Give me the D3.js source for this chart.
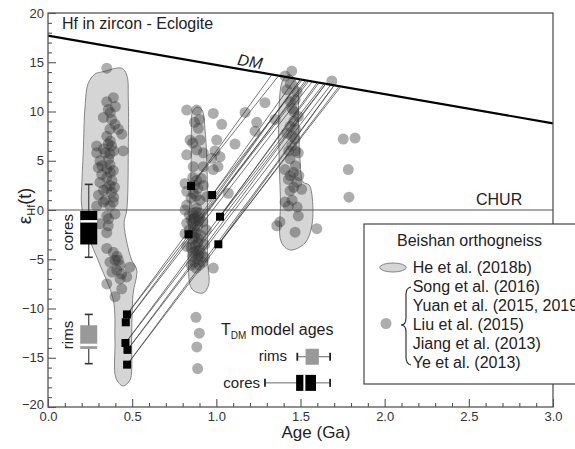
<!DOCTYPE html>
<html><head><meta charset="utf-8">
<script src="https://cdn.jsdelivr.net/npm/d3@7"></script>
<style>
body{margin:0;background:#fff}
svg{display:block}
text{font-family:"Liberation Sans",Arial,Helvetica,sans-serif}
</style>
</head><body>
<svg id="chart" width="575" height="449"></svg>
<script>
// ---------- data ----------
const xTicks = [0, 0.5, 1.0, 1.5, 2.0, 2.5, 3.0];
const yTicks = [-20, -15, -10, -5, 0, 5, 10, 15, 20];
const dmAge = [0, 3.0];
const dmEps = [17.7, 8.8];
const churEps = 0;

// He et al. (2018b) envelopes [age, eps]
const envelopeA = [[0.239,12.86],[0.279,13.8],[0.327,14.04],[0.438,14.39],[0.468,13.7],[0.477,11.17],[0.477,6.09],[0.468,0],[0.452,-1.3],[0.47,-3.4],[0.497,-5.08],[0.527,-6.09],[0.505,-8.6],[0.497,-13.2],[0.497,-16.24],[0.487,-17.26],[0.446,-17.87],[0.404,-17.06],[0.398,-13.2],[0.388,-9.14],[0.309,-5.58],[0.238,-2.54],[0.2,0.34],[0.202,3.05],[0.21,6.09],[0.22,10.46]];
const envelopeB = [[0.858,9.95],[0.885,10.46],[0.915,10.15],[0.933,8.12],[0.945,4.06],[0.948,-1.02],[0.948,-5.08],[0.954,-7.61],[0.921,-8.43],[0.855,-8.02],[0.833,-5.08],[0.838,-1.02],[0.85,4.06],[0.852,8.12]];
const envelopeC = [[1.396,13.2],[1.438,13.7],[1.479,12.79],[1.488,9.14],[1.497,5.08],[1.515,2.84],[1.551,2.54],[1.568,1.52],[1.568,-1.52],[1.527,-3.35],[1.438,-4.06],[1.386,-3.25],[1.381,1.02],[1.372,6.09],[1.372,10.15]];

// Beishan orthogneiss literature data [age, eps]
const dotsA = [[0.349,14.4],[0.349,11.0],[0.388,11.4],[0.358,10.2],[0.329,9.4],[0.378,9.2],[0.398,8.7],[0.418,8.2],[0.438,7.7],[0.368,8.2],[0.349,7.5],[0.358,6.7],[0.378,6.5],[0.289,6.5],[0.289,5.8],[0.447,6.0],[0.368,5.7],[0.309,5.0],[0.368,4.6],[0.388,4.0],[0.299,4.3],[0.319,3.6],[0.349,3.3],[0.309,2.8],[0.368,2.5],[0.378,1.8],[0.388,0.8],[0.368,0.4],[0.289,0.4],[0.33,6.2],[0.36,5.2],[0.38,3.0],[0.30,1.5],[0.34,1.0],[0.395,2.3],[0.35,4.2],[0.33,2.0],[0.329,0.8],[0.349,-0.6],[0.398,-0.4],[0.309,-1.4],[0.358,-1.6],[0.349,-2.3],[0.349,-3.9],[0.388,-4.3],[0.398,-5.1],[0.368,-5.3],[0.418,-5.1],[0.428,-5.6],[0.487,-5.8],[0.408,-6.1],[0.438,-6.5],[0.468,-6.8],[0.428,-7.0],[0.349,-7.5],[0.438,-8.0],[0.398,-8.8],[0.37,7.0],[0.39,6.0],[0.34,5.8],[0.37,3.8],[0.35,2.2],[0.39,1.3],[0.36,-0.9],[0.37,9.9],[0.40,10.5],[0.32,4.5],[0.41,-4.7],[0.38,-6.3]];
const dotsB = [[0.824,10.15],[0.883,10.15],[0.982,9.8],[1.032,8.7],[0.893,8.3],[0.844,7.1],[0.903,7.1],[1.002,7.1],[0.824,5.6],[0.883,6.1],[0.923,5.8],[1.022,5.4],[0.992,6.0],[0.863,4.4],[0.923,4.4],[0.982,4.1],[0.972,5.25],[1.01,4.4],[1.171,9.9],[1.111,6.7],[1.24,8.9],[1.289,10.9],[1.23,8.0],[1.071,1.7],[0.883,3.0],[0.814,2.7],[0.923,2.5],[0.863,1.7],[0.824,1.9],[0.903,1.0],[0.943,1.35],[0.824,0.5],[0.883,0.2],[0.814,0],[0.84,-0.5],[0.87,-0.8],[0.90,-0.3],[0.824,-1.35],[0.86,-1.3],[0.89,-1.6],[0.92,-1.2],[0.84,-2.0],[0.88,-2.3],[0.91,-2.6],[0.814,-2.4],[0.86,-3.0],[0.89,-3.3],[0.93,-3.5],[0.824,-3.7],[0.85,-3.8],[0.88,-4.1],[0.91,-4.4],[0.86,-4.7],[0.89,-5.0],[0.92,-5.3],[0.85,-5.6],[0.88,-5.9],[0.87,-2.8],[0.90,-4.0],[0.87,-1.9],[0.85,-1.0],[0.90,-0.8],[0.94,-2.0],[0.93,-4.8],[0.982,-5.9],[0.879,-10.9],[0.899,-12.5],[0.884,-13.9],[0.889,-16.1],[0.86,3.3],[0.89,2.2],[0.85,1.2],[0.88,-0.2],[0.86,-0.3],[0.895,-1.1],[0.875,-3.6],[0.855,-2.3],[0.895,-2.9],[0.865,-4.3],[0.895,-4.6],[0.87,-5.3],[0.9,-5.6],[0.865,-0.9],[0.88,1.4],[0.87,2.5],[0.91,3.2],[0.86,6.8],[0.87,8.9],[0.9,9.2]];
const dotsC = [[1.448,14.1],[1.408,13.6],[1.686,13.1],[1.418,12.2],[1.349,9.2],[1.468,11.2],[1.487,9.5],[1.438,8.5],[1.418,7.8],[1.468,7.2],[1.448,6.5],[1.487,5.8],[1.438,5.2],[1.408,4.1],[1.458,3.8],[1.428,3.1],[1.478,2.8],[1.507,2.1],[1.438,1.95],[1.428,0.4],[1.487,-0.6],[1.468,-2.25],[1.359,-1.6],[1.597,-1.9],[1.408,0.8],[1.378,-1.2],[1.45,10.3],[1.47,4.5],[1.43,6.0],[1.46,9.0],[1.44,11.0],[1.49,3.5],[1.44,12.8],[1.47,8.2],[1.45,7.5],[1.44,3.5],[1.46,2.3],[1.45,1.0],[1.48,0.3],[1.47,6.0],[1.46,10.0],[1.48,12.0],[1.754,7.2],[1.824,7.3],[1.784,4.1],[1.788,1.3]];

// Eclogite zircon (black squares)
const squareAge = [0.469, 0.462, 0.460, 0.472, 0.470, 0.850, 0.975, 1.022, 0.835, 1.012];
const squareEps = [-10.6, -11.4, -13.5, -14.2, -15.7, 2.44, 1.52, -0.68, -2.47, -3.48];
// model-age lines: start square index, age where the line meets DM
const tdmSquare = [0, 0, 1, 1, 2, 2, 3, 3, 4, 4, 5, 5, 6, 6, 7, 7, 8, 8, 9, 9];
const tdmAge = [1.50, 1.55, 1.53, 1.57, 1.61, 1.65, 1.65, 1.68, 1.70, 1.73, 1.33, 1.37, 1.47, 1.51, 1.60, 1.64, 1.50, 1.54, 1.70, 1.74];

// box plots: [min, q1, median, q3, max]
const boxAge = 0.242;
const coresEps = [-4.8, -3.5, -1.15, -0.1, 2.6];
const rimsEps = [-15.6, -14.1, -13.7, -11.7, -10.6];
const coresTdm = [1.289, 1.474, 1.523, 1.592, 1.676];
const rimsTdm = [1.481, 1.530, 1.570, 1.609, 1.676];
const tdmRowEps = [-14.9, -17.55]; // rims row, cores row

const legendRefs = ["Song et al. (2016)", "Yuan et al. (2015, 2019)", "Liu et al. (2015)", "Jiang et al. (2013)", "Ye et al. (2013)"];

// ---------- drawing ----------
const svg = d3.select("#chart");
const x = d3.scaleLinear().domain([0, 3]).range([48, 553]);
const y = d3.scaleLinear().domain([-20, 20]).range([407, 13]);
const ink = "#222";

// envelopes
const env = d3.line().x(d => x(d[0])).y(d => y(d[1])).curve(d3.curveCatmullRomClosed.alpha(0.5));
svg.append("g").selectAll("path").data([envelopeA, envelopeB, envelopeC]).join("path")
  .attr("d", env).attr("fill", "#d5d5d5").attr("stroke", "#858585").attr("stroke-width", 1);

// dots
const allDots = dotsA.concat(dotsB, dotsC);
svg.append("g").selectAll("circle").data(allDots).join("circle")
  .attr("cx", d => x(d[0])).attr("cy", d => y(d[1])).attr("r", 5.5)
  .attr("fill", "#333").attr("fill-opacity", 0.4);

// CHUR
svg.append("line").attr("x1", x(0)).attr("x2", x(3)).attr("y1", y(churEps)).attr("y2", y(churEps))
  .attr("stroke", "#555").attr("stroke-width", 1.2);

// DM
svg.append("line").attr("x1", x(dmAge[0])).attr("y1", y(dmEps[0])).attr("x2", x(dmAge[1])).attr("y2", y(dmEps[1]))
  .attr("stroke", "#000").attr("stroke-width", 2.2);
const dmAt = t => dmEps[0] + (dmEps[1] - dmEps[0]) * (t - dmAge[0]) / (dmAge[1] - dmAge[0]);

// TDM lines
svg.append("g").selectAll("line").data(tdmSquare).join("line")
  .attr("x1", d => x(squareAge[d])).attr("y1", d => y(squareEps[d]))
  .attr("x2", (d, i) => x(tdmAge[i])).attr("y2", (d, i) => y(dmAt(tdmAge[i])))
  .attr("stroke", "#3a3a3a").attr("stroke-width", 0.7);

// squares
svg.append("g").selectAll("rect").data(squareAge).join("rect")
  .attr("x", (d) => x(d) - 4).attr("y", (d, i) => y(squareEps[i]) - 4)
  .attr("width", 8).attr("height", 8).attr("fill", "#000");

// frame + axes
svg.append("rect").attr("x", x(0)).attr("y", y(20)).attr("width", x(3) - x(0)).attr("height", y(-20) - y(20))
  .attr("fill", "none").attr("stroke", "#555").attr("stroke-width", 1.3);

const xMinor = d3.range(0, 3.0001, 0.1).filter(v => Math.abs(v * 2 - Math.round(v * 2)) > 1e-6);
const yMinor = d3.range(-20, 20.0001, 1).filter(v => v % 5 !== 0);

function styleAxis(g) {
  g.select(".domain").remove();
  g.selectAll(".tick line").attr("stroke", "#555").attr("stroke-width", 1.1);
  g.selectAll("text").attr("fill", "#333").attr("font-size", 13)
    .attr("font-family", '"Liberation Sans",Arial,sans-serif');
}
svg.append("g").attr("transform", `translate(0,${y(-20)})`)
  .call(d3.axisBottom(x).tickValues(xTicks).tickFormat(d3.format(".1f")).tickSize(-8).tickPadding(5)).call(styleAxis);
svg.append("g").attr("transform", `translate(0,${y(-20)})`)
  .call(d3.axisBottom(x).tickValues(xMinor).tickFormat("").tickSize(-4)).call(styleAxis);
const yAx = svg.append("g").attr("transform", `translate(${x(0)},0)`)
  .call(d3.axisLeft(y).tickValues(yTicks).tickFormat(d3.format("d")).tickSize(-8).tickPadding(4)).call(styleAxis);
yAx.selectAll(".tick").filter(d => d === -20).select("text").attr("dy", "0.1em");
svg.append("g").attr("transform", `translate(${x(0)},0)`)
  .call(d3.axisLeft(y).tickValues(yMinor).tickFormat("").tickSize(-4)).call(styleAxis);

// vertical box plots (cores / rims)
function vbox(stats, fill) {
  const g = svg.append("g");
  const cx = x(boxAge), w = 17;
  g.append("line").attr("x1", cx).attr("x2", cx).attr("y1", y(stats[0])).attr("y2", y(stats[4])).attr("stroke", "#444").attr("stroke-width", 1.2);
  [stats[0], stats[4]].forEach(v => g.append("line").attr("x1", cx - 4).attr("x2", cx + 4).attr("y1", y(v)).attr("y2", y(v)).attr("stroke", "#333").attr("stroke-width", 1.6));
  g.append("rect").attr("x", cx - w / 2).attr("width", w).attr("y", y(stats[3])).attr("height", y(stats[1]) - y(stats[3])).attr("fill", fill);
  g.append("line").attr("x1", cx - w / 2).attr("x2", cx + w / 2).attr("y1", y(stats[2])).attr("y2", y(stats[2])).attr("stroke", "#fff").attr("stroke-width", 2.5);
}
vbox(coresEps, "#000");
vbox(rimsEps, "#999");

// horizontal TDM box plots
function hbox(stats, rowEps, fill, median) {
  const g = svg.append("g");
  const cy = y(rowEps), h = 16;
  g.append("line").attr("x1", x(stats[0])).attr("x2", x(stats[4])).attr("y1", cy).attr("y2", cy).attr("stroke", "#666").attr("stroke-width", 1);
  [stats[0], stats[4]].forEach(v => g.append("line").attr("x1", x(v)).attr("x2", x(v)).attr("y1", cy - 4).attr("y2", cy + 4).attr("stroke", "#222").attr("stroke-width", 1.8));
  g.append("rect").attr("x", x(stats[1])).attr("width", x(stats[3]) - x(stats[1])).attr("y", cy - h / 2).attr("height", h).attr("fill", fill);
  if (median) g.append("line").attr("x1", x(stats[2])).attr("x2", x(stats[2])).attr("y1", cy - h / 2).attr("y2", cy + h / 2).attr("stroke", "#fff").attr("stroke-width", 2);
}
hbox(rimsTdm, tdmRowEps[0], "#999", false);
hbox(coresTdm, tdmRowEps[1], "#000", true);

// ---------- texts ----------
svg.append("text").attr("x", 62).attr("y", 29).attr("font-size", 16).attr("fill", ink).text("Hf in zircon - Eclogite");

const ang = Math.atan2(y(dmEps[1]) - y(dmEps[0]), x(dmAge[1]) - x(dmAge[0])) * 180 / Math.PI;
svg.append("text").attr("transform", `translate(249,67) rotate(${ang})`).attr("text-anchor", "middle")
  .attr("font-size", 16).attr("font-style", "italic").attr("fill", ink).text("DM");

svg.append("text").attr("x", 476).attr("y", 205).attr("font-size", 16).attr("fill", ink).text("CHUR");

// y label
const yl = svg.append("text").attr("transform", "translate(31,206) rotate(-90)").attr("text-anchor", "middle").attr("fill", ink);
yl.append("tspan").attr("font-size", 19).text("ε");
yl.append("tspan").attr("font-size", 11).attr("dy", 4).text("Hf");
yl.append("tspan").attr("font-size", 18).attr("dy", -4).text("(t)");

svg.append("text").attr("x", 316).attr("y", 438).attr("text-anchor", "middle").attr("font-size", 17).attr("fill", ink).text("Age (Ga)");

// box labels
svg.append("text").attr("transform", `translate(73,${(y(coresEps[1]) + y(coresEps[4])) / 2 + 18}) rotate(-90)`)
  .attr("text-anchor", "middle").attr("font-size", 15).attr("fill", ink).text("cores");
svg.append("text").attr("transform", `translate(73,${(y(rimsEps[0]) + y(rimsEps[4])) / 2 - 4}) rotate(-90)`)
  .attr("text-anchor", "middle").attr("font-size", 15).attr("fill", ink).text("rims");

const tt = svg.append("text").attr("x", 221).attr("y", 335).attr("fill", ink).attr("font-size", 16);
tt.append("tspan").text("T");
tt.append("tspan").attr("font-size", 10).attr("dy", 4).text("DM");
tt.append("tspan").attr("dy", -4).text(" model ages");
svg.append("text").attr("x", 287).attr("y", y(tdmRowEps[0]) + 4).attr("text-anchor", "end").attr("font-size", 15).attr("fill", ink).text("rims");
svg.append("text").attr("x", 260).attr("y", y(tdmRowEps[1]) + 5).attr("text-anchor", "end").attr("font-size", 15).attr("fill", ink).text("cores");

// ---------- legend ----------
const lg = svg.append("g");
lg.append("rect").attr("x", 364).attr("y", 224).attr("width", 260).attr("height", 160)
  .attr("fill", "#fff").attr("stroke", "#333").attr("stroke-width", 1.1);
lg.append("text").attr("x", 397).attr("y", 245.5).attr("font-size", 16).attr("fill", ink).text("Beishan orthogneiss");
lg.append("ellipse").attr("cx", 393).attr("cy", 267.5).attr("rx", 13.3).attr("ry", 4.5)
  .attr("fill", "#d5d5d5").attr("stroke", "#858585");
lg.append("text").attr("x", 412.7).attr("y", 272.5).attr("font-size", 16).attr("fill", ink).text("He et al. (2018b)");
lg.selectAll("text.ref").data(legendRefs).join("text").attr("class", "ref")
  .attr("x", 412.7).attr("y", (d, i) => 291.5 + i * 19).attr("font-size", 16).attr("fill", ink).text(d => d);
lg.append("path").attr("d", "M411,287 Q406,288 406,294 L406,318 Q406,325 401,325 Q406,325 406,332 L406,357 Q406,364 411,365")
  .attr("fill", "none").attr("stroke", "#222").attr("stroke-width", 1.1);
lg.append("circle").attr("cx", 386).attr("cy", 323.5).attr("r", 5.5).attr("fill", "#333").attr("fill-opacity", 0.4);
</script>
</body></html>
